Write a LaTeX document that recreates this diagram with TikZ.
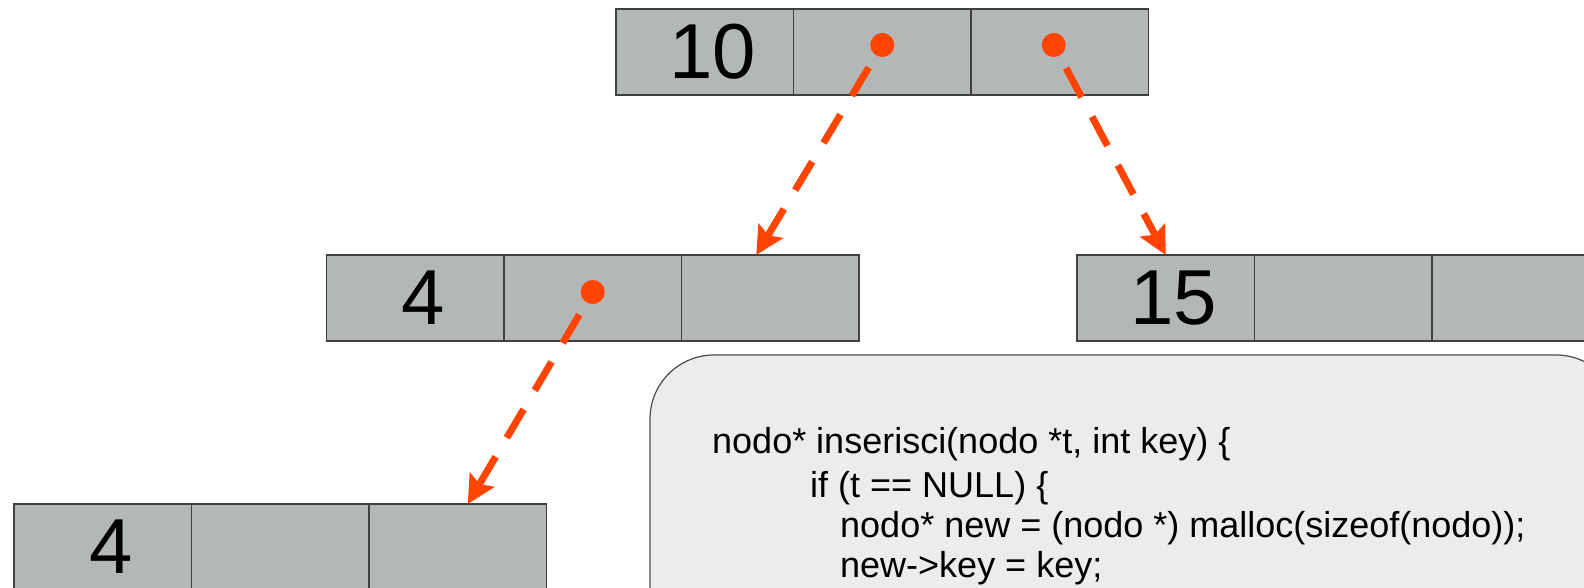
\documentclass[tikz,border=0pt]{standalone}
\usepackage{fontspec}
\setmainfont{Liberation Sans}
\usepackage{tikz}
\usetikzlibrary{positioning}
\usetikzlibrary{arrows.meta}

\definecolor{cellgray}{RGB}{180,183,184}
\definecolor{codegray}{RGB}{236,236,236}
\definecolor{ptrred}{RGB}{255,68,0}

\begin{document}
\begin{tikzpicture}[x=1pt,y=-1pt,
		cell/.style={draw=black!75, line width=1.2pt, fill=cellgray, outer sep=0pt, inner sep=0pt,
			minimum width=177.5pt, minimum height=86pt, font=\fontsize{78}{80}\selectfont,
			execute at begin node={\hspace*{16pt}}},
		codeline/.style={anchor=base west, inner sep=0pt, font=\fontsize{36}{41}\selectfont},
		dot/.style={circle, fill=ptrred, inner sep=0pt, minimum size=24pt},
		ptr/.style={ptrred, line width=7pt, dash pattern=on 33pt off 22pt, shorten <=14pt,
			-{Stealth[length=28pt,width=28pt,inset=5pt]}}]
		\clip (0,0) rectangle (1584,588);
		% codice
		\draw[draw=black!70, line width=1.2pt, fill=codegray, rounded corners=64pt]
			(650,640) -- (650,355) -- (1620,355) -- (1620,640);
		\node (code1) [codeline] at (712,453) {nodo* inserisci(nodo *t, int key) \{};
		\node (code2) [codeline] at (810,497) {if (t == NULL) \{};
		\node (code3) [codeline] at (840,537) {nodo* new = (nodo *) malloc(sizeof(nodo));};
		\node (code4) [codeline] at (840,577) {new->key = key;};
		% nodi
		\node (n10a) [cell] at (704.75,52) {10};
		\node (n10b) [cell, right=0pt of n10a] {};
		\node (n10c) [cell, right=0pt of n10b] {};
		\node (n4a) [cell] at (415.25,298) {4};
		\node (n4b) [cell, right=0pt of n4a] {};
		\node (n4c) [cell, right=0pt of n4b] {};
		\node (n15a) [cell] at (1165.75,298) {15};
		\node (n15b) [cell, right=0pt of n15a] {};
		\node (n15c) [cell, right=0pt of n15b] {};
		\node (m4a) [cell] at (102.75,547) {4};
		\node (m4b) [cell, right=0pt of m4a] {};
		\node (m4c) [cell, right=0pt of m4b] {};
		% puntatori
		\node (p10l) [dot, yshift=7pt] at (n10b) {};
		\node (p10r) [dot, yshift=7pt, xshift=-6pt] at (n10c) {};
		\node (p4l) [dot, yshift=6pt] at (n4b) {};
		\draw[ptr] (p10l) -- ([xshift=-14pt]n4c.north);
		\draw[ptr] (p10r) -- (n15a.north);
		\draw[ptr] (p4l) -- ([xshift=10pt]m4c.north);
\end{tikzpicture}
\end{document}
